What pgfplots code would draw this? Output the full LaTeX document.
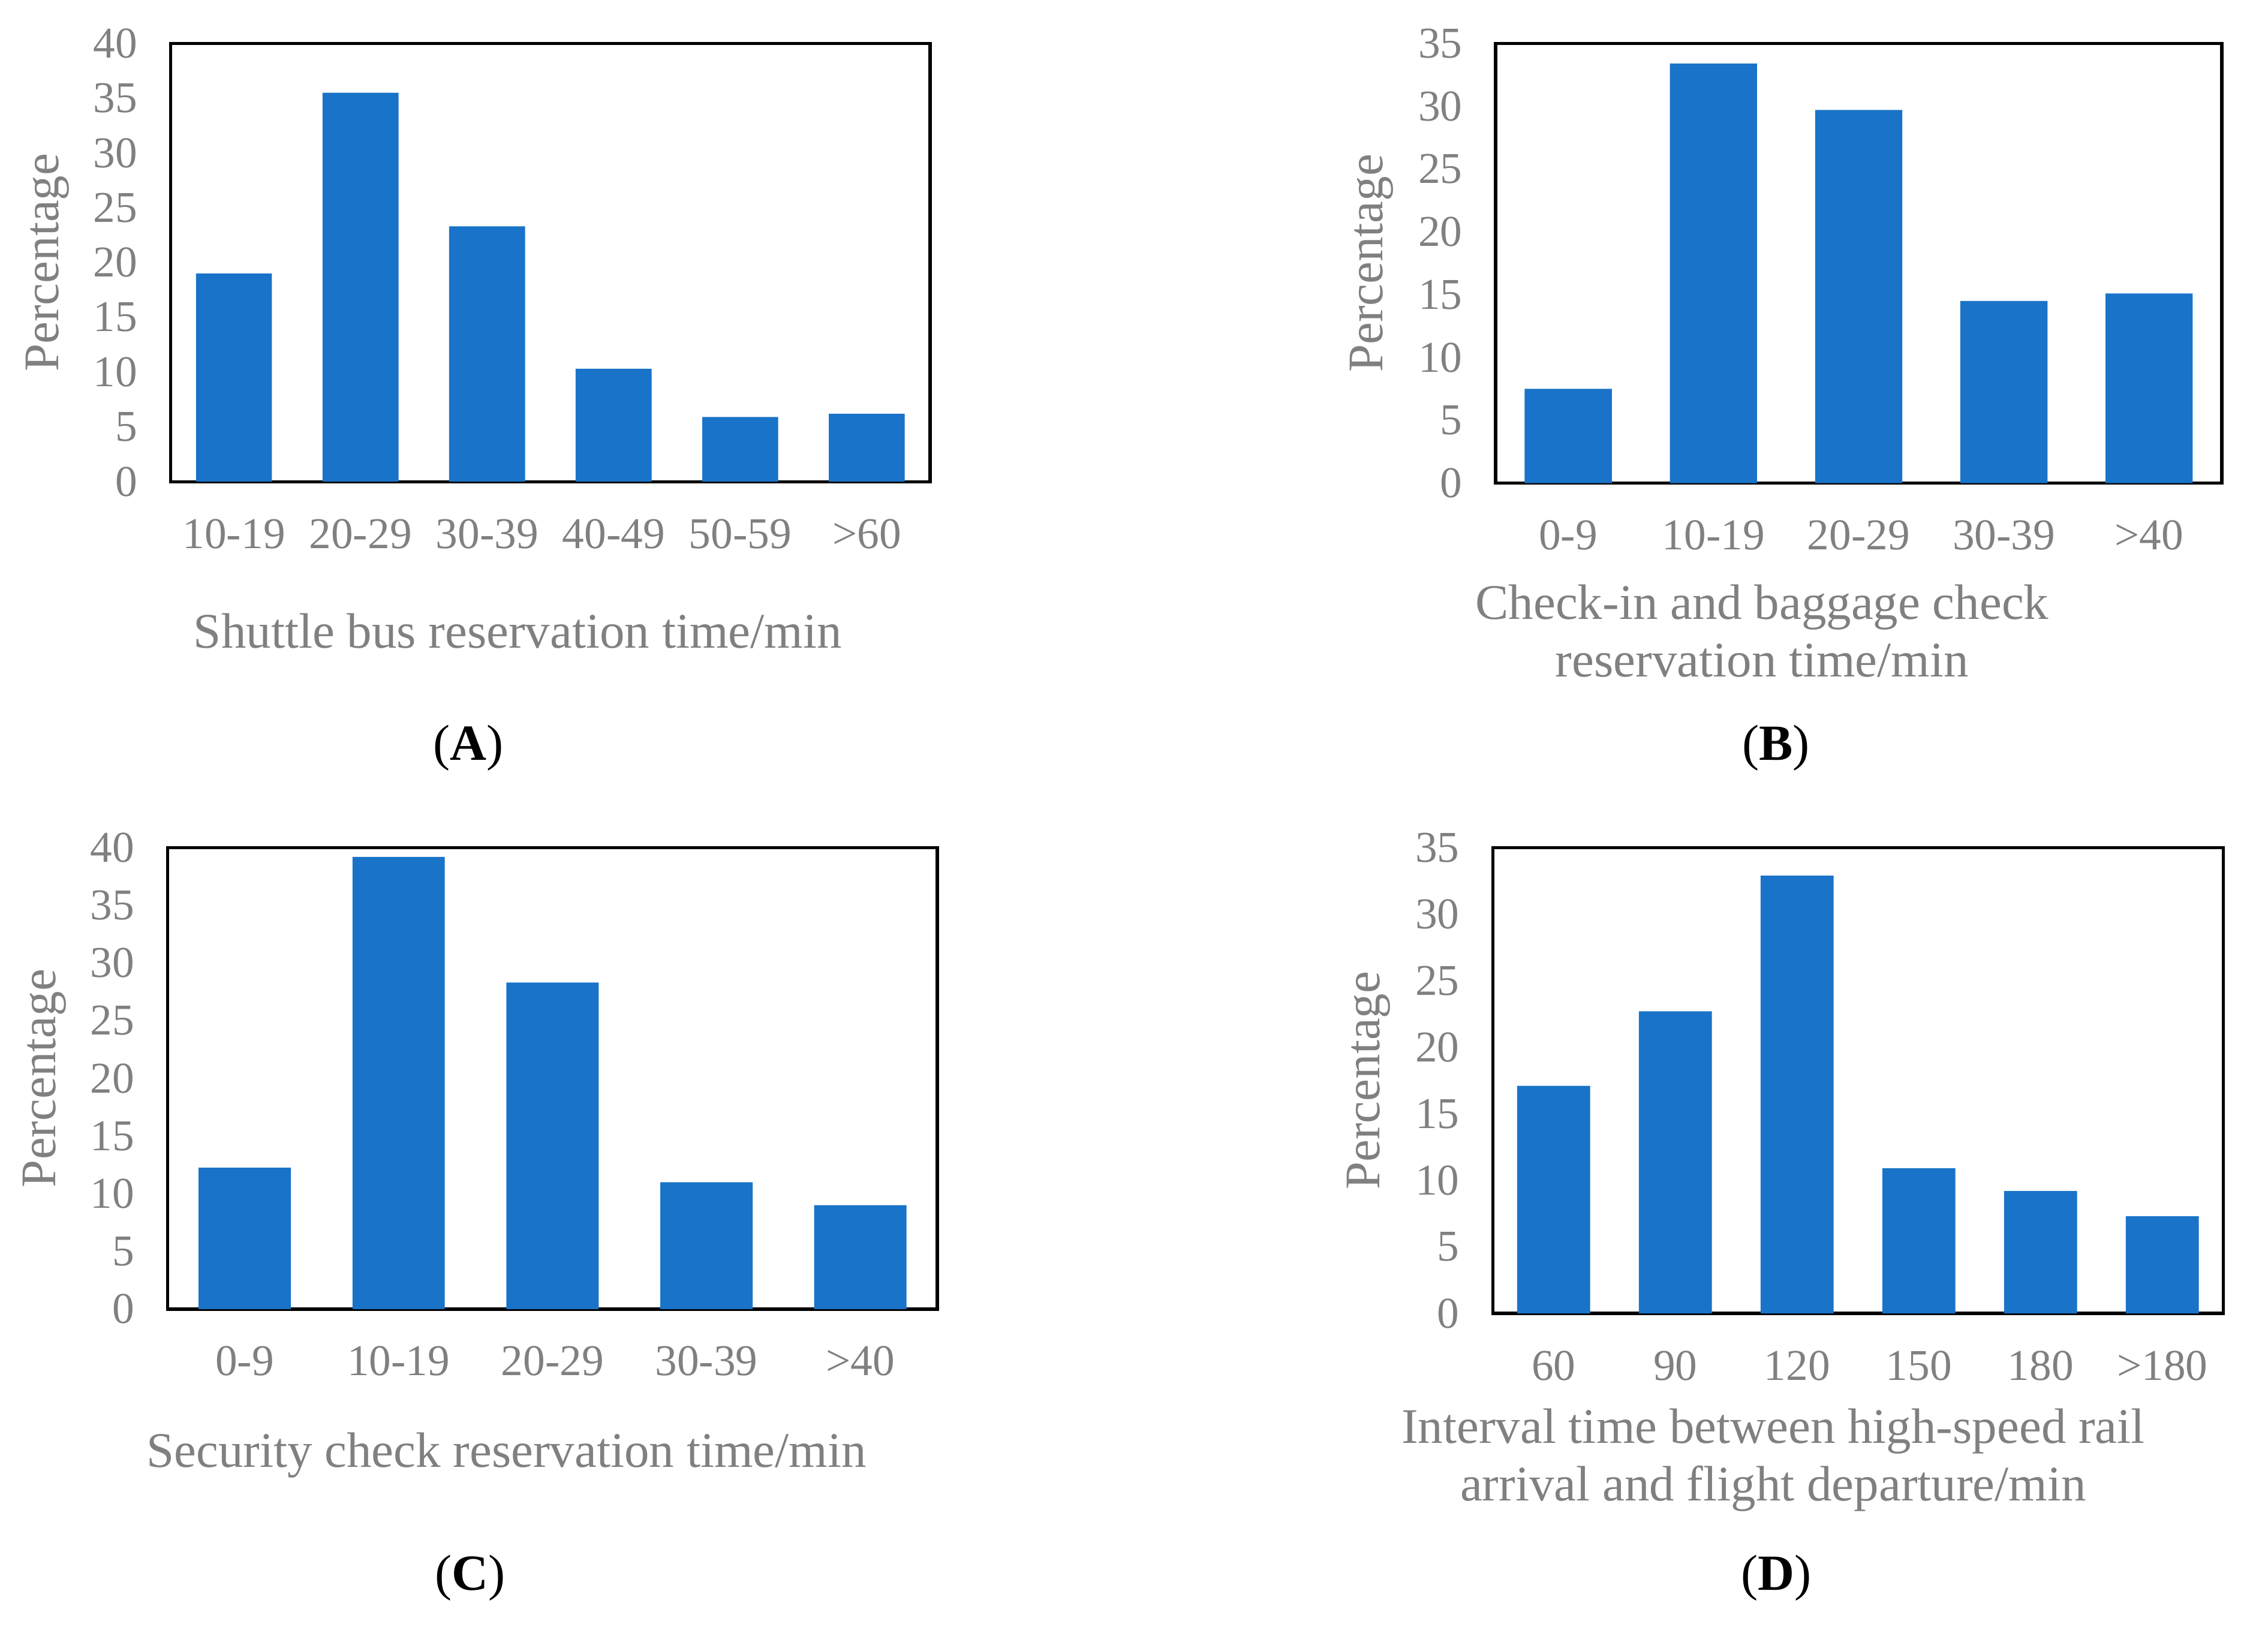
\documentclass[border=0pt]{standalone}
\usepackage{fontspec}
\setmainfont{Liberation Serif}
\usepackage{pgfplots}
\pgfplotsset{compat=1.18}
\definecolor{barblue}{RGB}{25,115,200}
\definecolor{txtgray}{RGB}{128,128,128}

\pgfplotsset{
  panel/.style={
    scale only axis,
    anchor=south west,
    ymin=0,
    xmin=-0.5,
    axis line style={line width=1.1pt, black},
    major tick length=0pt,
    xtick=data,
    tick label style={font=\fontsize{15.2}{18}\selectfont, text=txtgray},
    xticklabel style={anchor=base, yshift=-23pt},
    yticklabel style={anchor=east, xshift=-8pt},
    /pgf/number format/assume math mode=true,
    label style={font=\fontsize{17.2}{20}\selectfont, text=txtgray},
    xlabel style={anchor=center, align=center},
    ylabel style={anchor=center},
    clip=false,
  },
  bars/.style={ybar, bar width=0.6, fill=barblue, draw=none},
}
\newcommand{\plabel}[3]{\node[font=\fontsize{17.5}{20}\selectfont, text=black] at (axis description cs:#1,#2) {(\textbf{#3})};}

\begin{document}
\begin{tikzpicture}
\useasboundingbox (0,0) rectangle (784pt,562.3pt);

% (A) shuttle bus
\begin{axis}[panel,
  at={(59pt,395.8pt)}, width=262.5pt, height=151.5pt,
  xmax=5.5, ymax=40, ytick={0,5,...,40},
  xticklabels={10-19,20-29,30-39,40-49,50-59,>60},
  xlabel={Shuttle bus reservation time/min},
  xlabel style={at={(axis description cs:0.457,-0.340)}},
  ylabel={Percentage},
  ylabel style={at={(axis description cs:-0.162,0.5)}},
]
\addplot[bars] coordinates {(0,19.0) (1,35.5) (2,23.3) (3,10.3) (4,5.9) (5,6.2)};
\plabel{0.392}{-0.607}{A}
\end{axis}

% (B) check-in and baggage
\begin{axis}[panel,
  at={(517pt,395.3pt)}, width=251pt, height=152pt,
  xmax=4.5, ymax=35, ytick={0,5,...,35},
  xticklabels={0-9,10-19,20-29,30-39,>40},
  xlabel={Check-in and baggage check\\reservation time/min},
  xlabel style={at={(axis description cs:0.367,-0.336)}},
  ylabel={Percentage},
  ylabel style={at={(axis description cs:-0.171,0.5)}},
]
\addplot[bars] coordinates {(0,7.5) (1,33.4) (2,29.7) (3,14.5) (4,15.1)};
\plabel{0.386}{-0.602}{B}
\end{axis}

% (C) security check
\begin{axis}[panel,
  at={(58pt,109.8pt)}, width=266pt, height=159.5pt,
  xmax=4.5, ymax=40, ytick={0,5,...,40},
  xticklabels={0-9,10-19,20-29,30-39,>40},
  xlabel={Security check reservation time/min},
  xlabel style={at={(axis description cs:0.44,-0.317)}},
  ylabel={Percentage},
  ylabel style={at={(axis description cs:-0.160,0.5)}},
]
\addplot[bars] coordinates {(0,12.25) (1,39.2) (2,28.3) (3,11.0) (4,9.0)};
\plabel{0.393}{-0.583}{C}
\end{axis}

% (D) interval time
\begin{axis}[panel,
  at={(516pt,108.3pt)}, width=252.5pt, height=161pt,
  xmax=5.5, ymax=35, ytick={0,5,...,35},
  xticklabels={60,90,120,150,180,>180},
  xlabel={Interval time between high-speed rail\\arrival and flight departure/min},
  xlabel style={at={(axis description cs:0.384,-0.315)}},
  ylabel={Percentage},
  ylabel style={at={(axis description cs:-0.170,0.5)}},
]
\addplot[bars] coordinates {(0,17.1) (1,22.7) (2,32.9) (3,10.9) (4,9.2) (5,7.3)};
\plabel{0.388}{-0.568}{D}
\end{axis}
\end{tikzpicture}
\end{document}
